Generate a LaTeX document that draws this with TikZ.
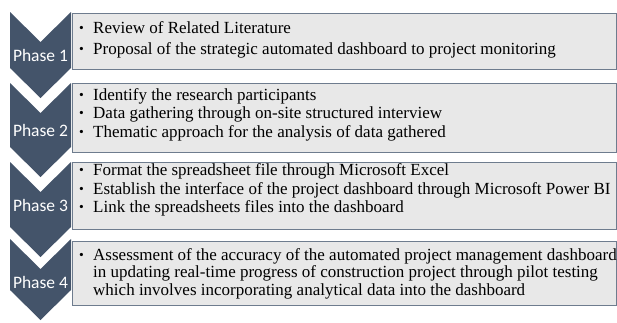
\documentclass[tikz,border=0pt]{standalone}
\usepackage{fontspec}
\setmainfont{Liberation Serif}
\newfontfamily\phasefont{Carlito}
\definecolor{chev}{HTML}{44546A}
\definecolor{boxfill}{HTML}{E8E8E8}
\definecolor{boxline}{HTML}{6E7C8E}
\newcommand\bul{\makebox[15pt][l]{\hspace{1pt}\raisebox{0.6pt}{\scalebox{0.8}{\textbullet}}}}
\begin{document}
\begin{tikzpicture}[x=1pt,y=-1pt,
  chevron/.style={fill=chev,draw=none},
  listbox/.style={fill=boxfill,draw=boxline,line width=0.9pt,anchor=north west,minimum width=544pt,inner sep=0},
  phaselabel/.style={text=white,font=\phasefont\fontsize{17.5}{20}\selectfont,inner sep=0},
  itemline/.style={anchor=base west,inner sep=0,font=\fontsize{17}{19}\selectfont}]
\useasboundingbox (0,0) rectangle (617,322);
% boxes
\node[listbox,minimum height=56pt] (b1) at (72,13) {};
\node[listbox,minimum height=69pt] (b2) at (72,83) {};
\node[listbox,minimum height=67pt] (b3) at (72,162) {};
\node[listbox,minimum height=64pt] (b4) at (72,241) {};
% chevrons
\foreach \t/\s in {12/68, 83/147, 162/227, 239/290}{
  \fill[chevron] (10,\t) -- (40.5,\t+30) -- (71,\t) -- (71,\s) -- (40.5,\s+30) -- (10,\s) -- cycle;
}
\node[phaselabel] (p1) at (40.5,55) {Phase 1};
\node[phaselabel] (p2) at (40.5,130) {Phase 2};
\node[phaselabel] (p3) at (40.5,205) {Phase 3};
\node[phaselabel] (p4) at (40.5,282) {Phase 4};
% text
\node[itemline] (t11) at (78,33) {\bul Review of Related Literature};
\node[itemline] (t12) at (78,54) {\bul Proposal of the strategic automated dashboard to project monitoring};
\node[itemline] (t21) at (78,100) {\bul Identify the research participants};
\node[itemline] (t22) at (78,118.5) {\bul Data gathering through on-site structured interview};
\node[itemline] (t23) at (78,137) {\bul Thematic approach for the analysis of data gathered};
\node[itemline] (t31) at (78,175) {\bul Format the spreadsheet file through Microsoft Excel};
\node[itemline] (t32) at (78,194) {\bul Establish the interface of the project dashboard through Microsoft Power BI};
\node[itemline] (t33) at (78,212) {\bul Link the spreadsheets files into the dashboard};
\node[itemline] (t41) at (78,260) {\bul Assessment of the accuracy of the automated project management dashboard};
\node[itemline] (t42) at (93,277.5) {in updating real-time progress of construction project through pilot testing};
\node[itemline] (t43) at (93,295) {which involves incorporating analytical data into the dashboard};
\end{tikzpicture}
\end{document}
